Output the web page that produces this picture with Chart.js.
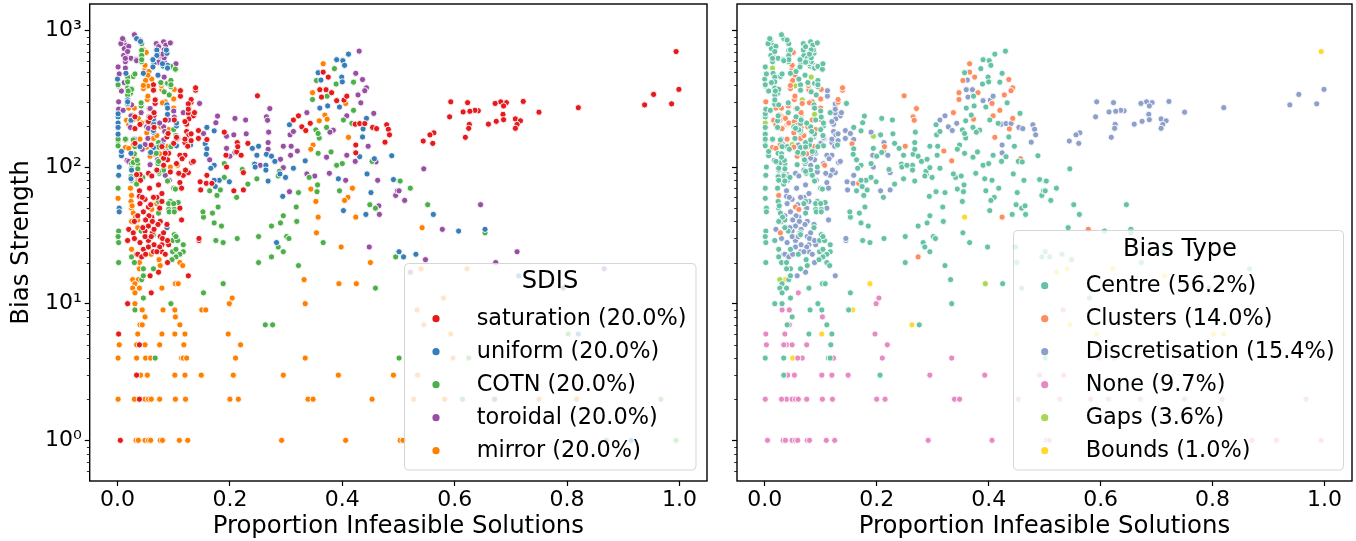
<!DOCTYPE html>
<html><head><meta charset="utf-8">
<style>html,body{margin:0;padding:0;background:#fff;width:1356px;height:541px;overflow:hidden}
#a,#b{position:absolute;top:0;height:541px}#a{left:0;width:722px}#b{left:722px;width:634px}
canvas{display:block}</style>
<script src="https://cdn.jsdelivr.net/npm/chart.js@4"></script>
</head><body>
<div id="a"><canvas id="c1" width="722" height="541"></canvas></div>
<div id="b"><canvas id="c2" width="634" height="541"></canvas></div>
<script>
const sdisNames=["saturation","uniform","COTN","toroidal","mirror"];
const sdisShare=["20.0%","20.0%","20.0%","20.0%","20.0%"];
const sdisColors=["#e41a1c","#377eb8","#4daf4a","#984ea3","#ff7f00"];
const biasNames=["Centre","Clusters","Discretisation","None","Gaps","Bounds"];
const biasShare=["56.2%","14.0%","15.4%","9.7%","3.6%","1.0%"];
const biasColors=["#66c2a5","#fc8d62","#8da0cb","#e78ac3","#a6d854","#ffd92f"];
const xTickValues=[0,0.2,0.4,0.6,0.8,1];
const yTickValues=[1,10,100,1000];
const yTickLabels=["10\u2070","10\u00b9","10\u00b2","10\u00b3"];
const xTitle="Proportion Infeasible Solutions",yTitle="Bias Strength";
// each sample: [proportion infeasible, bias strength, index into biasNames]
const saturation=[[.139,365,1],[.112,330,2],[.131,298,1],[.126,273,2],[.126,248,2],[.135,237,2],[.127,225,2],[.123,206,2],[.123,182,2],[.127,172,2],[.131,156,2],[.120,151,2],[.125,142,2],[.107,162,2],[.144,162,2],[.159,159,2],[.249,332,1],[.190,180,2],[.213,151,2],[.232,149,0],[.212,129,2],[.220,122,2],[.193,122,2],[.194,100,2],[.214,141,1],[.224,91,2],[.207,67,2],[.224,68,2],[.159,87,2],[.147,78,2],[.158,76,2],[.168,76,1],[.148,68,2],[.145,29,2],[.114,41,2],[.111,50,2],[.132,108,2],[.120,122,2],[.111,122,2],[.091,126,2],[.089,113,2],[.105,106,2],[.082,116,2],[.126,91,2],[.117,87,2],[.111,77,2],[.114,70,2],[.073,74,2],[.039,67,2],[.039,61,2],[.040,54,2],[.046,47,2],[.055,51,1],[.070,60,2],[.079,64,2],[.079,56,2],[.061,43,2],[.076,40,2],[.088,38,2],[.055,37,2],[.020,35,2],[.028,33,1],[.049,34,2],[.062,33,2],[.076,31,2],[.055,29,2],[.018,29,0],[.065,27,2],[.079,27,2],[.091,27,2],[.046,25,0],[.034,23,2],[.079,24,2],[.055,90,2],[.061,86,2],[.322,237,2],[.313,221,2],[.328,197,2],[.343,209,2],[.335,185,2],[.363,325,2],[.371,368,2],[.360,368,2],[.366,495,1],[.375,455,1],[.381,350,1],[.390,306,2],[.403,309,2],[.408,330,2],[.423,206,2],[.431,208,2],[.440,208,2],[.454,195,2],[.461,191,2],[.479,204,2],[.482,189,2],[.484,172,2],[.476,152,2],[.424,145,2],[.424,127,2],[.064,368,1],[.067,292,1],[.065,239,1],[.065,195,1],[.055,215,1],[.031,233,1],[.031,191,1],[.031,149,2],[.085,221,1],[.079,141,1],[.100,149,2],[.105,162,2],[.101,221,1],[.088,166,2],[.085,126,2],[.002,6,3],[.039,5,3],[.034,3,0],[.039,2,3],[.005,1,3],[.018,10,0],[.060,12,3],[.126,16,2],[.073,17,2],[.058,16,2],[.089,20,2],[.036,23,2],[.043,22,2],[.050,23,2],[.064,24,2],[.994,700,5],[.999,370,2],[.986,290,2],[.954,340,2],[.938,285,2],[.820,272,2],[.750,252,2],[.722,302,2],[.692,296,2],[.682,300,2],[.672,292,2],[.687,280,2],[.642,258,2],[.636,260,2],[.627,256,2],[.615,253,2],[.623,296,2],[.593,300,2],[.591,233,2],[.686,243,2],[.674,216,2],[.687,222,2],[.660,206,2],[.708,225,2],[.717,218,2],[.711,205,2],[.708,192,2],[.626,205,2],[.625,192,2],[.619,165,2],[.563,178,2],[.556,172,2],[.544,155,2],[.561,149,2],[.064,400,0],[.064,365,0],[.112,362,2],[.139,380,1],[.131,312,1],[.126,290,2],[.126,265,2],[.137,250,2],[.120,215,2],[.144,185,2],[.131,175,2],[.120,160,2],[.067,310,4],[.065,250,1],[.058,230,1],[.040,205,1],[.090,176,2],[.105,165,2],[.060,145,2],[.040,88,2],[.034,88,2],[.041,80,2],[.070,95,2],[.082,103,2],[.094,92,2],[.109,90,2],[.115,115,2],[.121,95,2],[.135,110,2],[.057,70,2],[.049,58,2],[.044,60,2],[.064,60,2],[.059,53,2],[.075,50,2],[.056,44,2],[.050,41,2],[.062,40,2],[.036,44,2],[.072,38,2],[.065,35,2],[.082,33,2],[.049,31,2],[.060,31,2],[.030,30,2],[.080,30,2],[.040,28,2],[.055,26,2],[.075,26,2],[.070,24,2],[.085,23,2],[.089,29,2],[.145,30,2],[.030,40,2],[.045,36,2]];
const uniform=[[.411,670,0],[.390,610,0],[.401,600,0],[.404,555,0],[.357,490,0],[.399,455,0],[.400,420,0],[.362,433,2],[.000,440,0],[.018,310,0],[.018,292,0],[.007,121,0],[.002,87,0],[.003,50,0],[.003,47,0],[.001,233,0],[.001,210,4],[.001,195,0],[.001,174,0],[.034,870,0],[.088,680,0],[.071,680,0],[.065,570,0],[.063,535,0],[.081,548,0],[.089,555,0],[.046,485,0],[.015,485,0],[.088,285,0],[.089,243,4],[.064,208,0],[.064,180,0],[.105,200,0],[.089,172,0],[.105,143,0],[.089,129,0],[.024,126,0],[.040,141,0],[.064,139,0],[.159,195,0],[.172,184,0],[.156,148,1],[.159,136,0],[.158,124,0],[.172,103,0],[.166,98,0],[.181,80,0],[.172,80,0],[.199,78,0],[.174,72,0],[.240,137,0],[.251,142,1],[.248,122,0],[.265,124,0],[.274,120,0],[.280,110,0],[.264,103,0],[.244,105,0],[.245,100,0],[.264,95,0],[.268,79,0],[.299,84,0],[.313,98,0],[.289,89,0],[.306,204,0],[.334,111,1],[.374,280,0],[.395,275,0],[.360,270,0],[.436,166,0],[.437,190,1],[.443,227,1],[.431,119,0],[.488,121,0],[.457,115,1],[.444,89,0],[.393,82,0],[.491,81,0],[.451,65,0],[.294,61,0],[.402,48,0],[.442,45,0],[.088,36,0],[.283,28,0],[.500,24,0],[.562,45,0],[.607,34,0],[.654,35,0],[.531,23,0],[.509,22,0],[.501,24,0],[.714,16,5],[.820,6,5],[.914,1,3],[.041,830,0],[.087,718,0],[.070,718,0],[.070,655,0],[.063,610,0],[.080,570,0],[.063,540,0],[.089,530,0],[.072,470,0],[.018,300,0],[.001,245,0],[.089,270,0],[.064,225,0],[.105,210,0],[.064,185,0],[.089,175,0],[.024,220,0],[.007,130,0],[.003,100,0],[.059,128,0],[.080,145,0],[.130,145,0],[.025,95,0],[.024,82,0]];
const COTN=[[.001,392,0],[.018,428,0],[.018,379,0],[.025,375,4],[.023,346,0],[.018,337,0],[.043,800,0],[.043,695,0],[.043,640,0],[.043,590,0],[.028,460,0],[.018,288,0],[.042,280,1],[.089,410,0],[.095,425,0],[.095,387,0],[.094,548,0],[.078,410,0],[.083,355,0],[.092,337,0],[.001,156,0],[.001,143,0],[.023,218,0],[.028,158,0],[.031,141,0],[.073,151,0],[.095,141,0],[.069,126,0],[.025,106,0],[.036,106,0],[.025,98,0],[.034,86,0],[.024,85,0],[.025,80,0],[.043,85,0],[.072,106,0],[.074,90,0],[.082,95,0],[.089,79,0],[.001,70,0],[.002,34,0],[.001,31,0],[.002,28,0],[.153,43,0],[.169,46,0],[.179,51,0],[.172,39,0],[.185,37,0],[.175,29,0],[.188,28,0],[.213,30,0],[.251,31,0],[.190,106,0],[.190,84,0],[.222,96,0],[.232,75,0],[.248,82,0],[.183,68,0],[.164,67,0],[.177,62,0],[.212,60,0],[.322,65,0],[.318,51,0],[.295,44,0],[.290,39,0],[.319,40,0],[.274,37,0],[.301,31,0],[.305,30,0],[.286,26,0],[.295,24,0],[.274,22,1],[.359,163,0],[.353,187,0],[.357,176,0],[.372,195,0],[.402,221,0],[.420,260,1],[.417,209,0],[.390,103,0],[.400,106,0],[.453,110,0],[.380,129,0],[.357,126,0],[.288,93,0],[.286,86,0],[.341,84,0],[.356,74,0],[.355,66,0],[.395,67,0],[.449,53,0],[.459,50,0],[.366,28,0],[.495,22,0],[.501,79,0],[.101,32,0],[.098,29,0],[.107,29,0],[.064,33,0],[.042,34,0],[.386,525,0],[.389,405,0],[.420,418,0],[.354,430,1],[.347,312,1],[.373,330,0],[.100,70,0],[.103,69,0],[.108,55,0],[.094,56,0],[.101,49,0],[.091,49,0],[.073,46,0],[.117,24,0],[.111,23,0],[.104,22,0],[.097,21,0],[.025,22,0],[.002,20,0],[.251,20,0],[.322,19,0],[.459,13,0],[.188,14,5],[.153,12,0],[.046,11,0],[.031,9,3],[.095,10,0],[.263,7,5],[.276,7,0],[.067,4,3],[.501,4,0],[.043,15,0],[.046,16,0],[.064,18,0],[.046,18,0],[.030,20,0],[.521,70,0],[.552,53,0],[.654,33,0],[.503,79,0],[.802,6,5],[.625,4,3],[.614,2,3],[.967,2,3],[.870,1,3],[.994,1,3],[.043,715,0],[.043,655,0],[.043,610,0],[.018,455,0],[.018,420,0],[.025,370,0],[.019,360,0],[.031,480,0],[.095,545,0],[.103,520,0],[.095,430,0],[.095,400,0],[.077,415,0],[.042,295,0],[.001,400,0],[.001,160,0],[.014,160,0],[.073,140,0],[.100,188,0],[.104,170,0],[.073,110,0],[.073,93,0],[.028,108,0],[.036,97,0],[.034,75,0],[.091,54,0],[.100,54,0],[.092,47,0],[.101,47,0],[.073,56,0],[.001,31,0],[.064,32,0],[.104,31,0],[.117,27,0],[.098,24,0],[.104,25,0],[.152,47,0],[.085,130,0],[.035,112,0],[.045,84,0],[.030,125,0]];
const toroidal=[[.030,930,0],[.011,840,0],[.015,780,0],[.012,735,0],[.020,765,0],[.011,655,0],[.017,630,0],[.014,590,0],[.024,625,0],[.033,610,0],[.001,540,0],[.014,530,4],[.069,800,0],[.082,825,0],[.086,780,0],[.069,720,0],[.083,720,0],[.076,625,0],[.083,590,0],[.076,590,0],[.104,570,0],[.083,455,4],[.002,300,1],[.002,265,0],[.018,310,0],[.025,285,0],[.023,195,0],[.014,160,0],[.058,268,0],[.056,233,0],[.065,221,0],[.052,197,0],[.061,187,0],[.091,221,0],[.082,197,0],[.054,162,0],[.084,182,0],[.049,146,4],[.082,158,0],[.017,112,2],[.058,104,0],[.071,113,0],[.092,80,2],[.085,87,0],[.146,292,0],[.178,236,0],[.175,211,0],[.209,227,0],[.228,221,0],[.271,268,1],[.265,233,1],[.267,220,1],[.269,180,0],[.194,168,4],[.207,172,0],[.229,175,0],[.153,176,2],[.268,151,0],[.268,135,0],[.295,142,0],[.309,142,0],[.320,131,1],[.290,114,0],[.308,122,0],[.164,113,0],[.194,137,0],[.209,128,0],[.200,120,0],[.254,103,0],[.295,99,0],[.337,250,1],[.307,172,0],[.313,182,0],[.377,90,0],[.337,89,0],[.351,86,0],[.406,80,0],[.463,80,0],[.430,705,0],[.424,485,0],[.436,437,1],[.443,380,1],[.440,362,1],[.428,337,1],[.433,295,0],[.408,237,1],[.456,247,0],[.384,186,0],[.378,180,0],[.423,110,0],[.408,122,0],[.372,118,0],[.446,142,0],[.460,109,0],[.306,66,0],[.495,62,0],[.498,67,0],[.465,52,0],[.466,45,0],[.448,26,0],[.545,97,0],[.511,57,0],[.646,53,0],[.578,35,1],[.711,24,0],[.548,21,0],[.501,67,0],[.521,17,5],[.866,18,0],[.793,13,0],[.671,2,3],[.673,20,0],[.011,850,0],[.014,624,0],[.034,600,0],[.083,630,0],[.073,585,0],[.024,237,0],[.100,257,0],[.101,232,0],[.117,250,0],[.055,192,0],[.006,800,0],[.009,870,0],[.040,850,0],[.018,700,0],[.073,760,0],[.094,810,0],[.080,670,0],[.003,480,0],[.012,415,0],[.007,360,0],[.010,260,0],[.030,160,2],[.044,135,0],[.020,110,0],[.075,210,0],[.042,250,0]];
const mirror=[[.366,570,1],[.347,350,1],[.348,145,0],[.344,135,0],[.359,218,0],[.369,240,0],[.373,224,1],[.406,292,1],[.411,165,1],[.418,70,0],[.410,60,0],[.404,57,0],[.424,43,1],[.398,26,0],[.353,56,0],[.357,43,5],[.354,33,0],[.344,69,0],[.103,517,1],[.101,370,1],[.101,313,1],[.100,270,1],[.046,720,0],[.049,520,1],[.055,498,1],[.054,392,4],[.061,440,0],[.046,375,1],[.079,368,1],[.053,312,1],[.082,300,1],[.042,208,1],[.037,227,1],[.058,120,1],[.028,146,1],[.014,139,1],[.020,137,1],[.001,59,0],[.024,56,0],[.025,50,0],[.036,79,0],[.070,54,0],[.061,49,1],[.036,41,0],[.025,40,0],[.094,100,0],[.107,103,1],[.025,25,0],[.026,240,1],[.056,268,1],[.016,220,1],[.020,204,1],[.052,178,1],[.077,197,1],[.091,188,1],[.014,158,1],[.064,162,1],[.073,149,1],[.088,141,1],[.067,124,1],[.039,20,0],[.076,19,0],[.111,20,0],[.116,19,0],[.450,20,0],[.039,18,0],[.027,15,4],[.332,15,0],[.037,15,5],[.031,14,0],[.103,14,0],[.108,14,0],[.394,14,4],[.425,14,0],[.027,13,0],[.039,13,0],[.079,13,0],[.031,12,0],[.204,11,3],[.031,10,0],[.199,10,3],[.334,10,0],[.044,9,3],[.081,9,0],[.102,9,0],[.150,9,0],[.157,9,5],[.049,8,0],[.103,8,3],[.040,7,0],[.044,7,3],[.111,7,0],[.036,6,3],[.079,6,0],[.102,6,5],[.120,6,0],[.197,6,3],[.003,5,3],[.034,5,3],[.049,5,3],[.075,5,3],[.118,5,0],[.219,5,3],[.001,4,0],[.034,4,0],[.050,4,5],[.059,4,3],[.114,4,0],[.117,4,0],[.123,4,3],[.210,4,3],[.334,4,3],[.041,3,3],[.053,3,3],[.102,3,3],[.120,3,3],[.149,3,3],[.206,3,0],[.295,3,3],[.393,3,3],[.491,3,3],[.001,2,3],[.030,2,3],[.049,2,3],[.055,2,3],[.060,2,3],[.075,2,3],[.103,2,3],[.121,2,3],[.200,2,3],[.215,2,3],[.339,2,3],[.348,2,3],[.453,2,3],[.033,1,3],[.037,1,3],[.049,1,3],[.055,1,3],[.059,1,3],[.076,1,3],[.080,1,3],[.110,1,3],[.125,1,3],[.292,1,3],[.406,1,3],[.503,1,3],[.508,1,3],[.542,36,0],[.540,18,5],[.622,18,5],[.580,11,0],[.533,9,3],[.545,7,5],[.593,6,5],[.597,4,3],[.534,3,3],[.527,2,3],[.582,2,3],[.750,2,3],[.817,2,3],[.051,690,1],[.049,555,1],[.056,500,0],[.054,470,1],[.050,430,1],[.046,395,1],[.054,330,1],[.078,395,1],[.100,315,1],[.085,300,1],[.080,295,1],[.020,270,1],[.027,220,1],[.043,210,1],[.053,215,1],[.030,270,1],[.058,202,1],[.070,170,1],[.040,160,1],[.052,140,1],[.075,125,1],[.030,118,0],[.023,70,0],[.025,62,1],[.026,52,0],[.028,46,0],[.032,43,0],[.036,36,0],[.060,23,0],[.074,21,0]];
const sdisSeries=[saturation,uniform,COTN,toroidal,mirror];
const allSamples=sdisSeries.flat();

const FONT="'DejaVu Sans'";
const MINOR=[.6,.7,.8,.9,2,3,4,5,6,7,8,9,20,30,40,50,60,70,80,90,200,300,400,500,600,700,800,900];

function makeDatasets(names,share,colors,pick){
  return names.map((n,i)=>({label:n+" ("+share[i]+")",data:pick(i),backgroundColor:colors[i],borderColor:"#ffffff",borderWidth:.9,pointRadius:3.1,pointHoverRadius:3.1}));
}
function frame(box){
  return {id:"frame",afterDatasetsDraw(c){
    const a=c.chartArea,g=c.ctx,y=c.scales.y;
    g.save();g.strokeStyle="#000";g.lineWidth=1.4;
    g.strokeRect(a.left,a.top,a.right-a.left,a.bottom-a.top);
    g.lineWidth=.8;
    MINOR.forEach(v=>{const p=Math.round(y.getPixelForValue(v))+.5;g.beginPath();g.moveTo(a.left-2.8,p);g.lineTo(a.left,p);g.stroke();});
    g.beginPath();g.roundRect(box.x,box.y,box.w,box.h,4);
    g.fillStyle="rgba(255,255,255,.8)";g.fill();g.strokeStyle="rgba(204,204,204,.8)";g.lineWidth=1;g.stroke();
    g.fillStyle="#000";g.textBaseline="middle";g.textAlign="center";g.font="24.2px "+FONT;
    g.fillText(box.title,box.tx,box.ty);
    g.textAlign="left";g.font="22.4px "+FONT;
    c.data.datasets.forEach((d,i)=>{
      const ry=box.r0+i*33;
      g.beginPath();g.arc(box.mx,ry,3.6,0,Math.PI*2);g.fillStyle=d.backgroundColor;g.fill();
      g.fillStyle="#000";g.fillText(d.label,box.lx,ry);
    });
    g.restore();
  }};
}
function makeChart(id,datasets,showY,box,yW,padR){
  return new Chart(document.getElementById(id),{type:"scatter",data:{datasets},plugins:[frame(box)],options:{
    responsive:false,animation:false,events:[],
    layout:{padding:{top:4,right:padR,left:0,bottom:0}},
    plugins:{legend:{display:false},tooltip:{enabled:false}},
    scales:{
      x:{type:"linear",min:-.0495,max:1.049,
        afterBuildTicks:s=>{s.ticks=xTickValues.map(v=>({value:v}));},
        afterFit:s=>{s.height=60;s.paddingLeft=0;s.paddingRight=0;},
        grid:{drawOnChartArea:false,drawTicks:true,tickLength:5,tickColor:"#000",tickWidth:1.2},border:{display:false},
        ticks:{autoSkip:false,maxRotation:0,padding:1,color:"#000",font:{family:FONT,size:22},callback:v=>v.toFixed(1)},
        title:{display:true,text:xTitle,color:"#000",font:{family:FONT,size:24.4},padding:{top:0,bottom:0}}},
      y:{type:"logarithmic",min:.504,max:1560,
        afterBuildTicks:s=>{s.ticks=yTickValues.map(v=>({value:v}));},
        afterFit:s=>{s.width=yW;s.paddingTop=0;s.paddingBottom=0;},
        grid:{drawOnChartArea:false,drawTicks:true,tickLength:5,tickColor:"#000",tickWidth:1.2},border:{display:false},
        ticks:{display:showY,autoSkip:false,padding:3,color:"#000",font:{family:FONT,size:22},callback:v=>yTickLabels[yTickValues.indexOf(v)]},
        title:{display:showY,text:yTitle,color:"#000",font:{family:FONT,size:24.4},padding:{top:7,bottom:0}}}
    }}});
}
makeChart("c1",makeDatasets(sdisNames,sdisShare,sdisColors,i=>sdisSeries[i].map(p=>({x:p[0],y:p[1]}))),true,
  {x:404.5,y:263.5,w:291.5,h:206.5,title:"SDIS",tx:550,ty:282,r0:318.7,mx:436,lx:476.7},89.7,15);
makeChart("c2",makeDatasets(biasNames,biasShare,biasColors,i=>allSamples.filter(p=>p[2]===i).map(p=>({x:p[0],y:p[1]}))),false,
  {x:291.5,y:230.5,w:330,h:239.5,title:"Bias Type",tx:458,ty:250,r0:285.7,mx:322.7,lx:363.7},15,1);
</script>
</body></html>
